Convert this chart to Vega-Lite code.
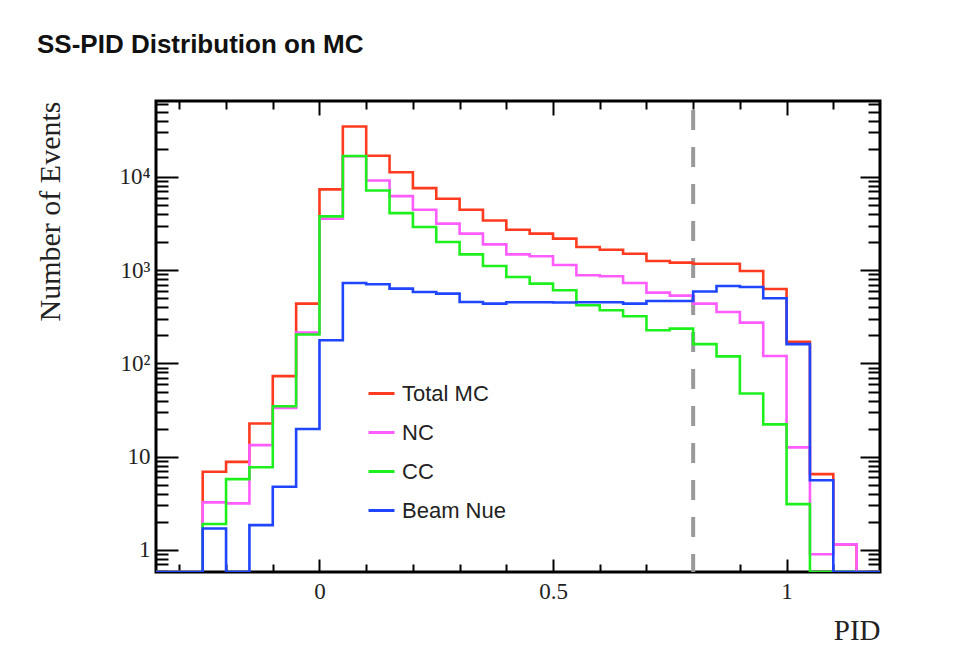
{
  "$schema": "https://vega.github.io/schema/vega-lite/v6.json",
  "width": 724,
  "height": 471,
  "autosize": {"type": "none"},
  "padding": {"left": 156, "top": 101, "right": 88, "bottom": 95},
  "background": "white",
  "title": {
    "text": "SS-PID Distribution on MC",
    "anchor": "start",
    "frame": "group",
    "dx": -119,
    "offset": 14,
    "baseline": "alphabetic",
    "font": "Liberation Sans",
    "fontSize": 26,
    "fontWeight": "bold",
    "color": "#111"
  },
  "config": {
    "view": {"stroke": "black", "strokeWidth": 3, "fill": "white"},
    "axis": {"domain": false, "grid": false, "tickColor": "black", "tickWidth": 2, "labelFont": "Liberation Serif", "labelFontSize": 23, "labelColor": "#222", "titleFont": "Liberation Serif", "titleFontWeight": "normal", "titleColor": "#222"}
  },
  "datasets": {
    "h": [
      {"series": "Total MC", "pid": -0.35, "n": 0}, {"series": "Total MC", "pid": -0.30, "n": 0}, {"series": "Total MC", "pid": -0.25, "n": 6.9}, {"series": "Total MC", "pid": -0.20, "n": 8.8}, {"series": "Total MC", "pid": -0.15, "n": 22.7}, {"series": "Total MC", "pid": -0.10, "n": 73}, {"series": "Total MC", "pid": -0.05, "n": 438}, {"series": "Total MC", "pid": 0.00, "n": 7330}, {"series": "Total MC", "pid": 0.05, "n": 34700}, {"series": "Total MC", "pid": 0.10, "n": 16800}, {"series": "Total MC", "pid": 0.15, "n": 11200}, {"series": "Total MC", "pid": 0.20, "n": 7570}, {"series": "Total MC", "pid": 0.25, "n": 5820}, {"series": "Total MC", "pid": 0.30, "n": 4440}, {"series": "Total MC", "pid": 0.35, "n": 3400}, {"series": "Total MC", "pid": 0.40, "n": 2710}, {"series": "Total MC", "pid": 0.45, "n": 2460}, {"series": "Total MC", "pid": 0.50, "n": 2175}, {"series": "Total MC", "pid": 0.55, "n": 1770}, {"series": "Total MC", "pid": 0.60, "n": 1656}, {"series": "Total MC", "pid": 0.65, "n": 1500}, {"series": "Total MC", "pid": 0.70, "n": 1252}, {"series": "Total MC", "pid": 0.75, "n": 1203}, {"series": "Total MC", "pid": 0.80, "n": 1172}, {"series": "Total MC", "pid": 0.85, "n": 1172}, {"series": "Total MC", "pid": 0.90, "n": 979}, {"series": "Total MC", "pid": 0.95, "n": 628}, {"series": "Total MC", "pid": 1.00, "n": 170}, {"series": "Total MC", "pid": 1.05, "n": 6.5}, {"series": "Total MC", "pid": 1.10, "n": 1.15}, {"series": "Total MC", "pid": 1.15, "n": 0}, {"series": "Total MC", "pid": 1.20, "n": 0},
      {"series": "NC", "pid": -0.35, "n": 0}, {"series": "NC", "pid": -0.30, "n": 0}, {"series": "NC", "pid": -0.25, "n": 3.24}, {"series": "NC", "pid": -0.20, "n": 3.16}, {"series": "NC", "pid": -0.15, "n": 13.3}, {"series": "NC", "pid": -0.10, "n": 33.4}, {"series": "NC", "pid": -0.05, "n": 214}, {"series": "NC", "pid": 0.00, "n": 3560}, {"series": "NC", "pid": 0.05, "n": 16600}, {"series": "NC", "pid": 0.10, "n": 9150}, {"series": "NC", "pid": 0.15, "n": 6210}, {"series": "NC", "pid": 0.20, "n": 4440}, {"series": "NC", "pid": 0.25, "n": 3150}, {"series": "NC", "pid": 0.30, "n": 2460}, {"series": "NC", "pid": 0.35, "n": 1890}, {"series": "NC", "pid": 0.40, "n": 1476}, {"series": "NC", "pid": 0.45, "n": 1406}, {"series": "NC", "pid": 0.50, "n": 1135}, {"series": "NC", "pid": 0.55, "n": 880}, {"series": "NC", "pid": 0.60, "n": 859}, {"series": "NC", "pid": 0.65, "n": 728}, {"series": "NC", "pid": 0.70, "n": 574}, {"series": "NC", "pid": 0.75, "n": 533}, {"series": "NC", "pid": 0.80, "n": 438}, {"series": "NC", "pid": 0.85, "n": 356}, {"series": "NC", "pid": 0.90, "n": 274}, {"series": "NC", "pid": 0.95, "n": 120}, {"series": "NC", "pid": 1.00, "n": 12.6}, {"series": "NC", "pid": 1.05, "n": 0.9}, {"series": "NC", "pid": 1.10, "n": 1.15}, {"series": "NC", "pid": 1.15, "n": 0}, {"series": "NC", "pid": 1.20, "n": 0},
      {"series": "CC", "pid": -0.35, "n": 0}, {"series": "CC", "pid": -0.30, "n": 0}, {"series": "CC", "pid": -0.25, "n": 1.9}, {"series": "CC", "pid": -0.20, "n": 5.75}, {"series": "CC", "pid": -0.15, "n": 7.7}, {"series": "CC", "pid": -0.10, "n": 34.8}, {"series": "CC", "pid": -0.05, "n": 204}, {"series": "CC", "pid": 0.00, "n": 3770}, {"series": "CC", "pid": 0.05, "n": 16700}, {"series": "CC", "pid": 0.10, "n": 7150}, {"series": "CC", "pid": 0.15, "n": 4080}, {"series": "CC", "pid": 0.20, "n": 2900}, {"series": "CC", "pid": 0.25, "n": 2000}, {"series": "CC", "pid": 0.30, "n": 1476}, {"series": "CC", "pid": 0.35, "n": 1107}, {"series": "CC", "pid": 0.40, "n": 845}, {"series": "CC", "pid": 0.45, "n": 716}, {"series": "CC", "pid": 0.50, "n": 608}, {"series": "CC", "pid": 0.55, "n": 420}, {"series": "CC", "pid": 0.60, "n": 371}, {"series": "CC", "pid": 0.65, "n": 320}, {"series": "CC", "pid": 0.70, "n": 227}, {"series": "CC", "pid": 0.75, "n": 236}, {"series": "CC", "pid": 0.80, "n": 161}, {"series": "CC", "pid": 0.85, "n": 119}, {"series": "CC", "pid": 0.90, "n": 47.6}, {"series": "CC", "pid": 0.95, "n": 22.2}, {"series": "CC", "pid": 1.00, "n": 3.1}, {"series": "CC", "pid": 1.05, "n": 0}, {"series": "CC", "pid": 1.10, "n": 0}, {"series": "CC", "pid": 1.15, "n": 0}, {"series": "CC", "pid": 1.20, "n": 0},
      {"series": "Beam Nue", "pid": -0.35, "n": 0}, {"series": "Beam Nue", "pid": -0.30, "n": 0}, {"series": "Beam Nue", "pid": -0.25, "n": 1.7}, {"series": "Beam Nue", "pid": -0.20, "n": 0}, {"series": "Beam Nue", "pid": -0.15, "n": 1.85}, {"series": "Beam Nue", "pid": -0.10, "n": 4.76}, {"series": "Beam Nue", "pid": -0.05, "n": 19.8}, {"series": "Beam Nue", "pid": 0.00, "n": 177}, {"series": "Beam Nue", "pid": 0.05, "n": 728}, {"series": "Beam Nue", "pid": 0.10, "n": 705}, {"series": "Beam Nue", "pid": 0.15, "n": 634}, {"series": "Beam Nue", "pid": 0.20, "n": 583}, {"series": "Beam Nue", "pid": 0.25, "n": 560}, {"series": "Beam Nue", "pid": 0.30, "n": 456}, {"series": "Beam Nue", "pid": 0.35, "n": 438}, {"series": "Beam Nue", "pid": 0.40, "n": 452}, {"series": "Beam Nue", "pid": 0.45, "n": 452}, {"series": "Beam Nue", "pid": 0.50, "n": 450}, {"series": "Beam Nue", "pid": 0.55, "n": 452}, {"series": "Beam Nue", "pid": 0.60, "n": 452}, {"series": "Beam Nue", "pid": 0.65, "n": 438}, {"series": "Beam Nue", "pid": 0.70, "n": 467}, {"series": "Beam Nue", "pid": 0.75, "n": 467}, {"series": "Beam Nue", "pid": 0.80, "n": 589}, {"series": "Beam Nue", "pid": 0.85, "n": 676}, {"series": "Beam Nue", "pid": 0.90, "n": 660}, {"series": "Beam Nue", "pid": 0.95, "n": 499}, {"series": "Beam Nue", "pid": 1.00, "n": 161}, {"series": "Beam Nue", "pid": 1.05, "n": 5.6}, {"series": "Beam Nue", "pid": 1.10, "n": 0}, {"series": "Beam Nue", "pid": 1.15, "n": 0}, {"series": "Beam Nue", "pid": 1.20, "n": 0}
    ],
    "cut": [{"pid": 0.8}]
  },
  "layer": [
    {
      "data": {"name": "cut"},
      "mark": {"type": "rule", "color": "#9a9a9a", "strokeWidth": 4, "strokeDash": [20, 17], "strokeDashOffset": 28},
      "encoding": {
        "x": {"field": "pid", "type": "quantitative", "axis": null}
      }
    },
    {
      "data": {"name": "h"},
      "mark": {"type": "line", "interpolate": "step-after", "strokeWidth": 2.6, "invalid": "show", "clip": true},
      "encoding": {
        "x": {
          "field": "pid", "type": "quantitative",
          "scale": {"domain": [-0.35, 1.2], "nice": false, "zero": false},
          "axis": {
            "orient": "bottom", "title": "PID", "titleAnchor": "end", "titleFontSize": 29, "titlePadding": 8,
            "values": [-0.3, -0.2, -0.1, 0, 0.1, 0.2, 0.3, 0.4, 0.5, 0.6, 0.7, 0.8, 0.9, 1, 1.1],
            "labelExpr": "datum.value == 0 ? '0' : datum.value == 0.5 ? '0.5' : datum.value == 1 ? '1' : ''",
            "tickSize": {"condition": {"test": "datum.value == 0 || datum.value == 0.5 || datum.value == 1", "value": -13}, "value": -8},
            "labelPadding": 21, "labelFlush": false, "labelOverlap": false
          }
        },
        "y": {
          "field": "n", "type": "quantitative",
          "scale": {"type": "log", "domain": [0.581, 65000], "nice": false, "clamp": true},
          "axis": {
            "orient": "left", "title": "Number of Events", "titleAnchor": "end", "titleFontSize": 30, "titlePadding": 53,
            "values": [0.6, 0.7, 0.8, 0.9, 1, 2, 3, 4, 5, 6, 7, 8, 9, 10, 20, 30, 40, 50, 60, 70, 80, 90, 100, 200, 300, 400, 500, 600, 700, 800, 900, 1000, 2000, 3000, 4000, 5000, 6000, 7000, 8000, 9000, 10000, 20000, 30000, 40000, 50000, 60000],
            "labelExpr": "datum.value == 1 ? '1' : datum.value == 10 ? '10' : datum.value == 100 ? '10²' : datum.value == 1000 ? '10³' : datum.value == 10000 ? '10⁴' : ''",
            "tickSize": {"condition": {"test": "datum.value == 1 || datum.value == 10 || datum.value == 100 || datum.value == 1000 || datum.value == 10000", "value": -22}, "value": -12},
            "labelPadding": 28, "labelFlush": false, "labelOverlap": false
          }
        },
        "color": {
          "field": "series", "type": "nominal",
          "scale": {"domain": ["Total MC", "NC", "CC", "Beam Nue"], "range": ["#ff3b1f", "#ff5cff", "#1ef01e", "#1f45ff"]},
          "legend": {
            "orient": "none", "legendX": 211, "legendY": 278, "title": null,
            "symbolType": "stroke", "symbolSize": 676, "symbolStrokeWidth": 3,
            "labelFont": "Liberation Sans", "labelFontSize": 22, "labelColor": "#222", "labelOffset": 6, "rowPadding": 13, "padding": 0
          }
        }
      }
    },
    {
      "data": {"name": "h"},
      "mark": {"type": "point", "opacity": 0},
      "encoding": {
        "x": {
          "field": "pid", "type": "quantitative",
          "axis": {
            "orient": "top", "title": null, "labels": false,
            "values": [-0.3, -0.2, -0.1, 0, 0.1, 0.2, 0.3, 0.4, 0.5, 0.6, 0.7, 0.8, 0.9, 1, 1.1],
            "tickSize": {"condition": {"test": "datum.value == 0 || datum.value == 0.5 || datum.value == 1", "value": -14}, "value": -8}
          }
        },
        "y": {
          "field": "n", "type": "quantitative",
          "axis": {
            "orient": "right", "title": null, "labels": false,
            "values": [0.6, 0.7, 0.8, 0.9, 1, 2, 3, 4, 5, 6, 7, 8, 9, 10, 20, 30, 40, 50, 60, 70, 80, 90, 100, 200, 300, 400, 500, 600, 700, 800, 900, 1000, 2000, 3000, 4000, 5000, 6000, 7000, 8000, 9000, 10000, 20000, 30000, 40000, 50000, 60000],
            "tickSize": {"condition": {"test": "datum.value == 1 || datum.value == 10 || datum.value == 100 || datum.value == 1000 || datum.value == 10000", "value": -20}, "value": -12}
          }
        }
      }
    }
  ],
  "resolve": {"axis": {"x": "independent", "y": "independent"}}
}
